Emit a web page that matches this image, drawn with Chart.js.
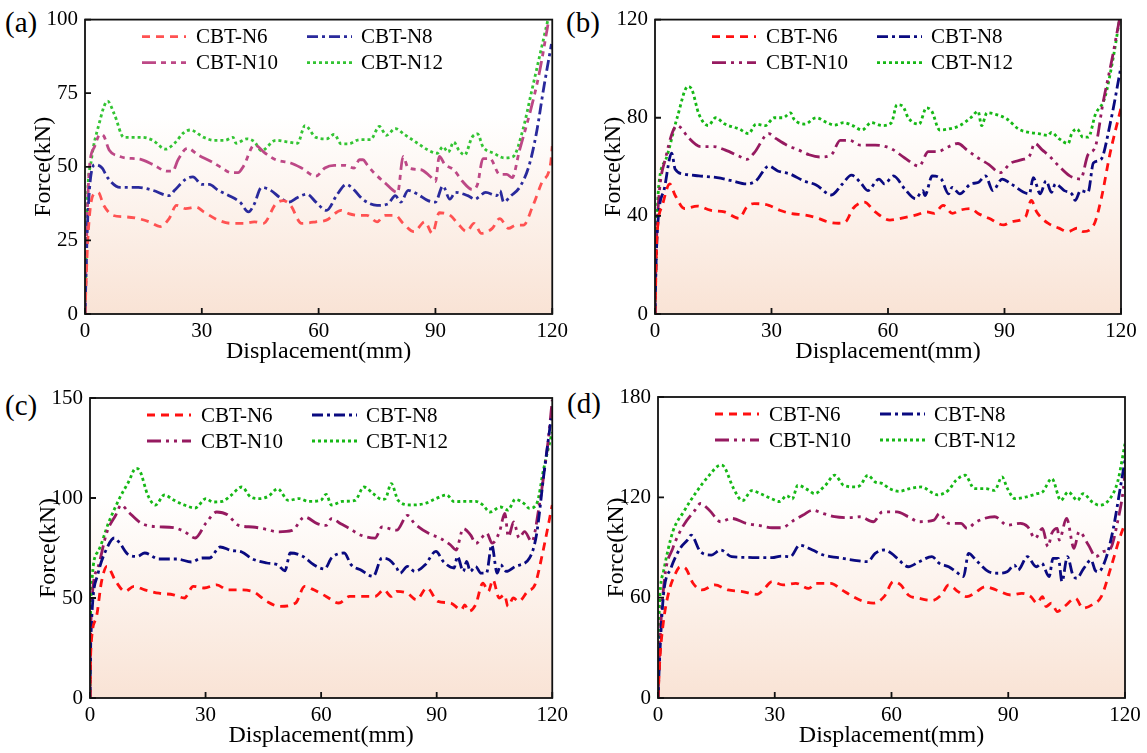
<!DOCTYPE html>
<html>
<head>
<meta charset="utf-8">
<script src="https://cdn.jsdelivr.net/npm/chart.js@4.4.1/dist/chart.umd.min.js"></script>
<style>
  body { margin: 0; background: #fff; width: 1147px; height: 753px; position: relative; overflow: hidden; font-family: "Liberation Serif", "Times New Roman", serif; }
  canvas { position: absolute; }
  .tag { position: absolute; font-size: 29px; line-height: 32px; color: #000; }
</style>
</head>
<body>
<div class="tag" style="left:5px;top:6px">(a)</div>
<div class="tag" style="left:566px;top:6px">(b)</div>
<div class="tag" style="left:5px;top:389px">(c)</div>
<div class="tag" style="left:567px;top:387px">(d)</div>
<canvas id="ca"></canvas>
<canvas id="cb"></canvas>
<canvas id="cc"></canvas>
<canvas id="cd"></canvas>
<script>
// series names and axis ticks
const seriesNames = ['CBT-N6', 'CBT-N8', 'CBT-N10', 'CBT-N12'];
const xTicks = [0, 30, 60, 90, 120];
const yTicksA = [0, 25, 50, 75, 100];
const yTicksB = [0, 40, 80, 120];
const yTicksC = [0, 50, 100, 150];
const yTicksD = [0, 60, 120, 180];

// ---- (a) ----
const aN6x = [0,0.7,2,3.4,4.8,7.2,10.4,13.7,16.5,19.3,21.6,23.5,25.8,28.6,30.5,34.2,37.5,40.7,43.5,45.8,49,50.9,52.8,55.6,59.3,62,65.8,67.7,70.5,72.4,75,77,79.7,81.7,84.5,87.3,89.2,91,93.8,95.7,98,99.9,101.8,104.6,106.5,108.8,110.7,112.6,114.9,117.3,119.6,120];
const aN6y = [0,24.7,40.2,41.3,36.9,33.5,33,32.4,31.3,29.7,32.4,36.9,35.8,36.3,34.7,31.9,30.8,30.8,31.3,30.8,37.4,38.5,36.9,30.8,31.3,31.9,35.2,34.1,33.5,33.5,31.3,33.5,33.5,30.8,28,31.3,27.4,34.4,33.5,30.8,28,30.8,27.4,29.1,32.4,29.1,30.2,30.2,36.3,44.6,51.3,57];
const aN8x = [0,0.7,2.5,4.4,5.8,9,13.7,17.4,21.6,23,25.8,27.7,30,31.9,34.2,37,39.8,42,43.5,45.3,47.7,50,52.3,54.6,57,59.3,62,64.8,67.1,69,71.3,75,77.8,79.7,81.1,83,85.4,88.1,90,91.9,93.7,95.1,98.3,100.2,101,102.9,105.7,106.6,107.5,109.4,111.6,114,115.9,117.8,119.8];
const aN8y = [0,32.4,50.7,49.6,46.3,43,43,42,40.2,42,45.7,46.6,44,44,42,40.2,38,34.7,37.4,43,42,39.6,38,39.6,40.7,38,35.2,40.7,44,42.3,39,36.9,37.4,40.2,38,42,40.7,38.5,38,43.5,39,41.3,40.2,39,39.6,41.3,40.2,41.8,38,40.2,43,50.2,61.2,76.7,91.7];
const aN10x = [0,0.5,1.1,2.5,3.9,4.8,6.2,9,10.4,14.1,17.4,21.1,22.5,23.9,26.3,29.1,32.4,35.2,37.5,39.3,40.7,43.5,46.3,49,52.8,55.6,59.3,61.6,64,66.8,69.1,70.5,71.4,72.4,74.2,77,80.3,81.7,83,86.3,88.6,90,91,92.4,94.7,97,99.4,100.8,102.2,104,106.5,108.3,109.7,111.6,114.4,116.7,118.9];
const aN10y = [0,30,49,57,61,60.5,55.7,53.5,53,52.6,50.8,48.5,48.5,52.4,56.3,54,51.8,49.6,48,48,50.2,57.4,54.6,52.4,51.3,49.6,46.8,49.6,50.5,50.5,49.6,52.4,52.4,50.8,48,44.6,41.3,53.5,49.6,49,46.8,45,53.5,50.8,49,45,42.3,44,52.8,52.8,47.4,47.4,46.3,55.7,69,82,98.3];
const aN12x = [0,0.6,1.6,3.5,5.8,7.5,10,14.6,17.4,20.7,23,25.3,27,30.5,33.2,36,38,38.8,41.6,43.5,45.3,49,51.8,54.6,56.5,59.3,62,64,65.8,67.7,70.5,73.3,75.6,77.4,79.7,82,85.4,88.1,90.5,91.9,93.3,94.7,96,97.5,99.4,100.8,102.2,105,107.7,110,112.4,114.7,117,118.9];
const aN12y = [0,38,52,64,72.3,68,60,60,59,56,58,61.5,62.5,60,59,59,60,58,59.5,58.5,55.5,59,58.5,58,64,60,59.5,61,57.8,57.8,59.2,59.2,63.7,60.7,63,61,58,55.7,54.6,56.8,55,58.4,55.7,54,60,61.2,56.8,54.6,53,53.5,62.3,75.6,89,100];

// ---- (b) ----
const bN6x = [0,0.5,1.9,3.8,5.2,7.6,10.9,14.2,17.9,21.7,23.6,25.5,29.3,32.1,34.9,38.7,42,44.4,47.3,49.1,51,53.9,56.7,60.5,63.3,67.1,70,71.9,74.2,76.6,78.5,81.3,83.2,86,89.8,91.7,95.4,96.9,98.3,101.2,104,106.4,108.7,110.2,113,114.9,117.2,120];
const bN6y = [0,31,44.3,53,48.3,43,44,42.3,41.6,39,43.6,45,44.3,42.3,41,40.3,39,37.6,37,37.6,43,45.6,41.6,38.3,39,40.3,41.6,41,44.3,41,42.3,43,41,39,36.3,37.6,39.6,46.3,41.6,37,35,33.6,35,33.6,36.3,46.9,65.6,84];
const bN8x = [0,0.3,0.9,2.4,4.3,5.2,7.6,11.3,16,19.8,23.6,26,29.3,31.6,34.9,38.2,41.5,45.4,48.2,50.6,52.9,54.8,57.7,59.1,61.4,64.3,67.1,69,69.5,71.4,73.7,75.6,76.5,78.5,81.3,83.2,85.1,87,89.4,91.7,96.4,97.4,99.2,100.7,102.1,103.1,105.4,107.3,108.2,109.6,111.5,112.9,114.8,117.2,120];
const bN8y = [0,22,40.3,51,65.6,59,57,56.3,55.6,54.3,53,54.3,60.3,58.3,57,54.3,52.6,48.5,52.9,56.6,53.6,50.3,55,53,56.3,51,47,50.3,48.3,56.3,55,49,51.6,49,53,53.6,56.3,50.3,55,53,49,55.6,49,54.3,49.6,53,50.3,49,46.3,50.3,49.6,61.6,62.9,77.5,100.8];
const bN10x = [0,0.3,0.9,2.8,5.7,6.6,8.5,11.8,15.1,18,21.7,23.6,25.5,29.3,31.2,34,36.9,39.7,42.5,45.4,47.7,50.1,52.9,56.7,59.5,61.4,64.3,68,70.4,72.8,75.6,78,80.3,83.2,86,88.8,91.7,94.5,96.4,97.8,99.7,101.6,104,106.8,109.6,111.5,113.4,115.3,117.7,119.6];
const bN10y = [0,25,45.6,64,76.8,76,72.1,68.2,68.2,66.9,64.3,63,65.6,73.5,71.5,68.8,66.9,64.9,64,64.9,70.8,70.8,68.8,68.8,68.2,66.9,63.6,60.3,66.2,66.2,68.2,69.5,66.9,63.6,60.9,57.6,61.6,62.9,64.3,69.5,66.9,64.3,60.3,56.3,55,64.9,68.2,85.5,104,120];
const bN12x = [0,0.2,0.9,2.8,5.7,8.5,9.5,11.3,13.7,15.6,18,21.7,24.1,26,28.4,30.7,33,34.9,35.8,38.6,41.5,44.3,46.2,48.6,50.9,53.3,55.7,58.5,60.9,62.3,63.8,65.2,68,69.9,71.3,73.3,75.6,78.5,81.3,83.2,84.1,85.5,87.9,90.7,93.6,96.4,98.8,101.2,102.1,104,106.4,107.3,108.7,110.2,111.6,113.4,115.8,118.1,119.6];
const bN12y = [0,19,51,63,80,92.8,91.5,81.5,76.8,80,77.4,75.4,73.5,77.4,76.8,80,80,82,79.4,77.4,80,78,77,78,76.8,75,78,76.8,78,85.3,84.7,80,77.4,84,82.6,75,75.4,76.8,80,82.6,76.8,82,81.3,79.4,75.4,74,73.5,72.8,74,71.5,69.5,73.5,75.4,72.1,72.1,81.3,88,105.4,120];

// ---- (c) ----
const cN6x = [0,0.2,1.6,3,4.4,6.7,9.1,11.4,14.2,17.9,21.7,24.5,26.8,29.6,32.9,35.7,38.5,42.2,45.9,49.2,53.4,55.7,58.1,61.3,64.6,67.4,70.2,74,76.3,78.2,79.6,82.4,84.7,87.5,90.3,93.6,96.4,97.3,98.3,100.1,102,103.4,104.6,106.2,107.6,108.5,109.9,111.3,113.6,115.5,117.4,120];
const cN6y = [0,23.3,40,58.3,65.8,58.3,53.3,55.8,54.1,52.4,51.6,50,55.8,55,56.6,54.1,54.1,53.3,48.3,45.8,47.5,55.8,54.1,50.8,47.5,50.8,50.8,50.8,54.1,50.8,53.3,52.4,49.1,55,48.3,47.5,44.1,46.6,43.3,46.6,57.4,53.3,59.1,50,51.6,45.8,50,48.3,53.3,56.6,71.6,96.5];
const cN8x = [0,0.2,2,4.4,6.3,7.7,10,12.3,14.2,17.9,22.6,26.3,29.1,31,33.8,36.6,39.4,42.2,45.9,48.7,50.6,52,55.3,58.1,60.9,62.7,66,67.8,70.2,73.5,75.8,77.7,79.6,80.5,82.4,84.3,87,89.8,91.7,94.5,95.4,96.9,97.8,98.7,100.1,101.5,102.9,104.3,105.7,106.6,108.1,110.4,114.1,115.9,117.8,119.7];
const cN8y = [0,28.3,61.6,75,80,77.5,71.6,70.8,72.5,69.5,69.5,68,70,70,75.5,73.8,73,69.5,67.5,66.6,63.6,72.5,70.8,66.6,64.5,70,72.5,66.6,64.1,60.8,70,69.1,65,62.4,65.8,63.3,66.6,73.3,68.3,65,70.8,63.3,68.3,63.3,65.8,62.4,62.4,76.5,62.4,66.6,63.3,65.8,70,81.5,111.5,139.8];
const cN10x = [0,0.2,2,4.4,6.7,8.1,10,13.3,17,21.7,24.5,27.3,30.1,32.9,35.7,38.6,42.2,45.9,48.7,52.5,55.7,59,61.3,62.7,65.1,67.4,70.2,74,75.8,79.6,82.4,84.3,88,90.8,93.6,95,96.9,98.8,100.2,101.6,103,104.4,106.3,107.7,108.6,110,111.4,112.8,114.7,116.5,118.9,120];
const cN10y = [0,36.6,65,83,91.5,96.5,93,87.4,85.7,85.2,83.2,80,87.4,93,91.6,86.3,85.5,84.3,83.1,83.8,90.5,87.2,86.3,89.7,87.1,84.7,81.5,79.9,85.5,83.9,91.3,87.1,82.2,80,76.5,74,84.7,81.5,77.3,80,82.4,77.4,83.1,92.3,80.6,88,80,83.2,78.2,94.8,128,149];
const cN12x = [0,0.2,2,4.9,7.7,10,11.9,12.8,15.1,17,19.3,21.7,24.5,27.3,30.1,31.9,34.3,36.6,39.4,41.7,44.1,46.4,48.7,51.5,54.3,56.7,59.9,61.3,62.7,65.5,68.8,71.1,73.5,75.8,76.7,78.2,80,83.3,87,89.8,92.6,94.5,97.3,100.1,102,103.8,106.6,108.5,110.4,112.7,114.1,116,117.8,120];
const cN12y = [0,48,73,88,100,108,114.8,114,101,96.5,101.5,99,96.5,95,99.7,98,98.3,101.3,105.5,100.5,99.7,101,104.6,98.8,99.7,98.3,98.8,101.8,96.5,98.3,98.8,105.5,102.2,99.3,99.7,107.2,98.8,96.5,97.3,99.7,101.5,98.2,98.3,98.3,96.5,93,95.5,94,99.3,97.2,94.8,97.3,114.8,133];

// ---- (d) ----
const dN6x = [0,0.5,1.4,2.8,4.3,5.7,7.1,9,11.3,14.6,18,21.7,25.5,27.4,29.3,32.1,35.4,38.7,40.6,44.4,47.3,50.1,52.9,55.3,58.1,60.5,62.4,64.3,67.1,70.4,72.8,74.7,77.1,79.4,81.3,84.1,86.9,90.7,93.5,95.8,97.4,98.8,99.7,101.1,102.6,104.4,107.3,109.2,111.5,113.9,116.3,118.6,120];
const dN6y = [0,23.9,45.7,63.6,73.5,78.5,77.5,68.6,64.6,67.6,64.6,63.6,62,65.6,69.6,67.6,68.6,65.6,68.6,68.6,64.6,60.6,57.7,56.7,60.6,69.6,67.6,61.6,59.6,58.3,61.6,67.6,63.6,60.6,62.6,66.6,64.6,61.6,62.6,60.6,56.7,60.6,54.7,56.7,51.7,54.7,59.6,53.7,55.7,60.6,77.5,95.4,104.4];
const dN8x = [0,0.5,1.4,3.3,5.7,7.6,8.5,10.9,13.7,16.1,18.9,22.7,26.5,29.3,31.7,34,36.4,39.7,42.5,46.3,50.1,53.9,55.8,58.1,60,61.9,64.3,67.1,70.4,72.3,74.7,76.6,78.5,79.8,81.7,85,87.4,89.7,91.6,92.5,94.9,97.2,98.6,100.5,101.5,102.9,103.8,105.2,106.6,107.6,109.4,111.3,112.3,113.2,115.1,117,118.9,120];
const dN8y = [0,27.8,61.6,77.5,89.5,94.5,97.4,87.5,85.5,88.5,84.5,84.1,83.9,83.9,84.9,84.5,91.4,88.5,85.5,83.9,82.5,81.5,86.5,88.5,86.5,82.5,78.5,81.5,84.5,80.5,78.5,75.5,72.6,86.5,82.5,75.5,74.6,75.5,79.5,76.5,84.5,78.5,80.5,72.6,83.5,83.5,69.6,84.5,73.5,71.6,77.5,82.5,76.5,75.5,83.5,101.4,127.2,142];
const dN10x = [0,0.5,1.7,3.8,6.6,9.5,10.9,13.2,16.1,18.9,22.7,26.5,29.3,31.7,35,37.3,39.7,42.5,45.4,49.1,51.9,55.3,57.7,61.4,64.3,67.1,70.9,72.3,74.7,77.9,79.4,81.8,86.5,89.8,93.1,95,96.9,98.8,100.2,101.2,102.6,103.1,105,106.9,108.2,110.6,112.5,114.4,116.3,118.1,119.6,120];
const dN10y = [0,33.8,71.6,89.5,103.4,112.3,116.3,112.3,105.4,107.4,104.4,103,101.8,101.8,106.4,109.4,112.3,110.3,108.4,107.8,108.4,105.4,111.3,111.3,108.4,105.4,106.4,110.3,104.4,104.4,101.4,105.4,108.4,103.4,104.4,102.4,95.5,101.4,90.5,98.5,101.4,94.5,107.4,89.5,99.5,91.5,84.5,87.5,89.5,105.4,125.3,135];
const dN12x = [0,0.2,1.4,3.8,6.6,9.9,13.2,16.1,17,19.4,21.7,24.1,26.5,29.3,31.2,33.1,34.5,35.9,38.7,40.2,43,45.4,47.7,50.6,52,53.9,55.8,57.7,59.5,61.9,64.7,67.6,70.9,71.8,74.6,76.6,78.9,81.3,84.1,86.5,88.4,89.8,91.7,94.5,97.4,98.8,101.2,103.5,105.4,107.8,109.2,111.6,113.4,115.8,118.1,120];
const dN12y = [0,43.7,75.5,99.4,111.4,123.3,133.3,139.3,138.3,125.4,118,124,122,119,117.5,121,119,127.2,124.2,122.2,127.2,133.2,127.2,126.2,127.2,133.2,129.2,128.2,125.2,123.6,125.2,126.2,122.2,121.5,124.2,130.2,133.2,125.2,125.2,124.2,132.2,125.2,119.2,120.2,122.2,123.2,131.2,118.2,123.2,118.2,122.2,117.2,115.3,118.2,129.2,152];

const SERIF = '"Liberation Serif", "Times New Roman", serif';
Chart.defaults.font.family = SERIF;
Chart.defaults.color = '#000';

function pts(xs, ys) {
  const n = Math.min(xs.length, ys.length);
  const out = [];
  for (let i = 0; i < n; i++) out.push({ x: xs[i], y: ys[i] });
  return out;
}

// peach gradient behind the curves
const bgPlugin = {
  id: 'bgFill',
  beforeDraw(chart) {
    const { ctx, chartArea: a } = chart;
    const g = ctx.createLinearGradient(0, a.top, 0, a.bottom);
    g.addColorStop(0, '#ffffff');
    g.addColorStop(0.33, '#ffffff');
    g.addColorStop(1, '#f9e3d5');
    ctx.save();
    ctx.fillStyle = g;
    ctx.fillRect(a.left, a.top, a.right - a.left, a.bottom - a.top);
    ctx.restore();
  }
};

// box, inward ticks and legend inside the plot
const framePlugin = {
  id: 'frame',
  afterDatasetsDraw(chart) {
    const { ctx, chartArea: a, scales } = chart;
    ctx.save();
    ctx.strokeStyle = '#111';
    ctx.lineWidth = 1.8;
    ctx.setLineDash([]);
    ctx.strokeRect(a.left, a.top, a.right - a.left, a.bottom - a.top);
    ctx.beginPath();
    scales.x.ticks.forEach(t => {
      const px = scales.x.getPixelForValue(t.value);
      ctx.moveTo(px, a.bottom);
      ctx.lineTo(px, a.bottom - 6);
    });
    scales.y.ticks.forEach(t => {
      const py = scales.y.getPixelForValue(t.value);
      ctx.moveTo(a.left, py);
      ctx.lineTo(a.left + 6, py);
    });
    ctx.stroke();

    // legend
    const colX = [[57, 101, 111], [222, 267, 276]];
    const rowY = [17, 43];
    ctx.font = '21px ' + SERIF;
    ctx.textBaseline = 'middle';
    ctx.textAlign = 'left';
    chart.data.datasets.forEach((ds, i) => {
      const c = colX[i % 2];
      const y = a.top + rowY[Math.floor(i / 2)];
      ctx.strokeStyle = ds.borderColor;
      ctx.lineWidth = ds.borderWidth;
      ctx.setLineDash(ds.borderDash);
      ctx.beginPath();
      ctx.moveTo(a.left + c[0], y);
      ctx.lineTo(a.left + c[1], y);
      ctx.stroke();
      ctx.setLineDash([]);
      ctx.fillStyle = '#000';
      ctx.fillText(ds.label, a.left + c[2], y + 1);
    });
    ctx.restore();
  }
};

function makePanel(id, canvasBox, plotBox, yTicks, series, colors, dashes) {
  const [cx, cy, W, H] = canvasBox;
  const [l, t, r, b] = plotBox;
  const el = document.getElementById(id);
  el.width = W; el.height = H;
  el.style.left = cx + 'px'; el.style.top = cy + 'px';
  el.style.width = W + 'px'; el.style.height = H + 'px';
  const L = l - cx, T = t - cy, R = r - cx, B = b - cy;
  const half = 24 * 1.2 / 2;
  const padLeft = L - 41 - half;
  const yWidth = L - padLeft;
  const xHeight = 38 + half;
  const padBottom = H - (B + xHeight);

  const datasets = series.map((s, i) => ({
    label: seriesNames[i],
    data: pts(s[0], s[1]),
    borderColor: colors[i],
    backgroundColor: colors[i],
    borderWidth: 2.8,
    borderDash: dashes[i],
    pointRadius: 0,
    fill: false,
    cubicInterpolationMode: 'monotone',
  }));

  return new Chart(el.getContext('2d'), {
    type: 'line',
    data: { datasets },
    options: {
      responsive: false,
      animation: false,
      layout: { padding: { left: padLeft, top: T, right: W - R, bottom: padBottom } },
      plugins: { legend: { display: false }, tooltip: { enabled: false } },
      scales: {
        x: {
          type: 'linear', min: 0, max: 120,
          afterBuildTicks: sc => { sc.ticks = xTicks.map(v => ({ value: v })); },
          afterFit: sc => { sc.height = xHeight; },
          grid: { display: true, drawOnChartArea: false, drawTicks: false, color: 'rgba(0,0,0,0)' },
          border: { display: false },
          ticks: { padding: 5, font: { family: SERIF, size: 21 }, color: '#000' },
          title: { display: true, text: 'Displacement(mm)', font: { family: SERIF, size: 24 }, color: '#000', padding: 0 },
        },
        y: {
          type: 'linear', min: 0, max: yTicks[yTicks.length - 1],
          afterBuildTicks: sc => { sc.ticks = yTicks.map(v => ({ value: v })); },
          afterFit: sc => { sc.width = yWidth; },
          grid: { display: true, drawOnChartArea: false, drawTicks: false, color: 'rgba(0,0,0,0)' },
          border: { display: false },
          ticks: { padding: 7, font: { family: SERIF, size: 21 }, color: '#000' },
          title: { display: true, text: 'Force(kN)', font: { family: SERIF, size: 24 }, color: '#000', padding: 0 },
        }
      }
    },
    plugins: [bgPlugin, framePlugin]
  });
}

const colorsA = ['#ff5252', '#2a2a9c', '#bd4886', '#33c433'];
const colorsB = ['#ff1010', '#0a0a80', '#961a60', '#16b816'];
const dashesA = [[8, 6], [11, 4, 3, 4], [14, 5, 5, 5, 5, 5], [3, 3]];
const dashesB = [[8, 6], [11, 4, 3, 4], [14, 5, 3, 5, 3, 5], [3, 3]];

function drawAll() {
  makePanel('ca', [0, 0, 573, 376], [85, 13, 554, 314], yTicksA,
    [[aN6x, aN6y], [aN8x, aN8y], [aN10x, aN10y], [aN12x, aN12y]], colorsA, dashesA);
  makePanel('cb', [573, 0, 574, 376], [655, 13, 1121, 314], yTicksB,
    [[bN6x, bN6y], [bN8x, bN8y], [bN10x, bN10y], [bN12x, bN12y]], colorsB, dashesB);
  makePanel('cc', [0, 376, 573, 377], [90, 398, 557, 698], yTicksC,
    [[cN6x, cN6y], [cN8x, cN8y], [cN10x, cN10y], [cN12x, cN12y]], colorsB, dashesB);
  makePanel('cd', [573, 376, 574, 377], [658, 397, 1125, 698], yTicksD,
    [[dN6x, dN6y], [dN8x, dN8y], [dN10x, dN10y], [dN12x, dN12y]], colorsB, dashesB);
}

// make sure the serif face is ready before the canvases draw text
Promise.all([
  document.fonts.load('21px "Liberation Serif"'),
  document.fonts.load('24px "Liberation Serif"')
]).then(drawAll, drawAll);
</script>
</body>
</html>
